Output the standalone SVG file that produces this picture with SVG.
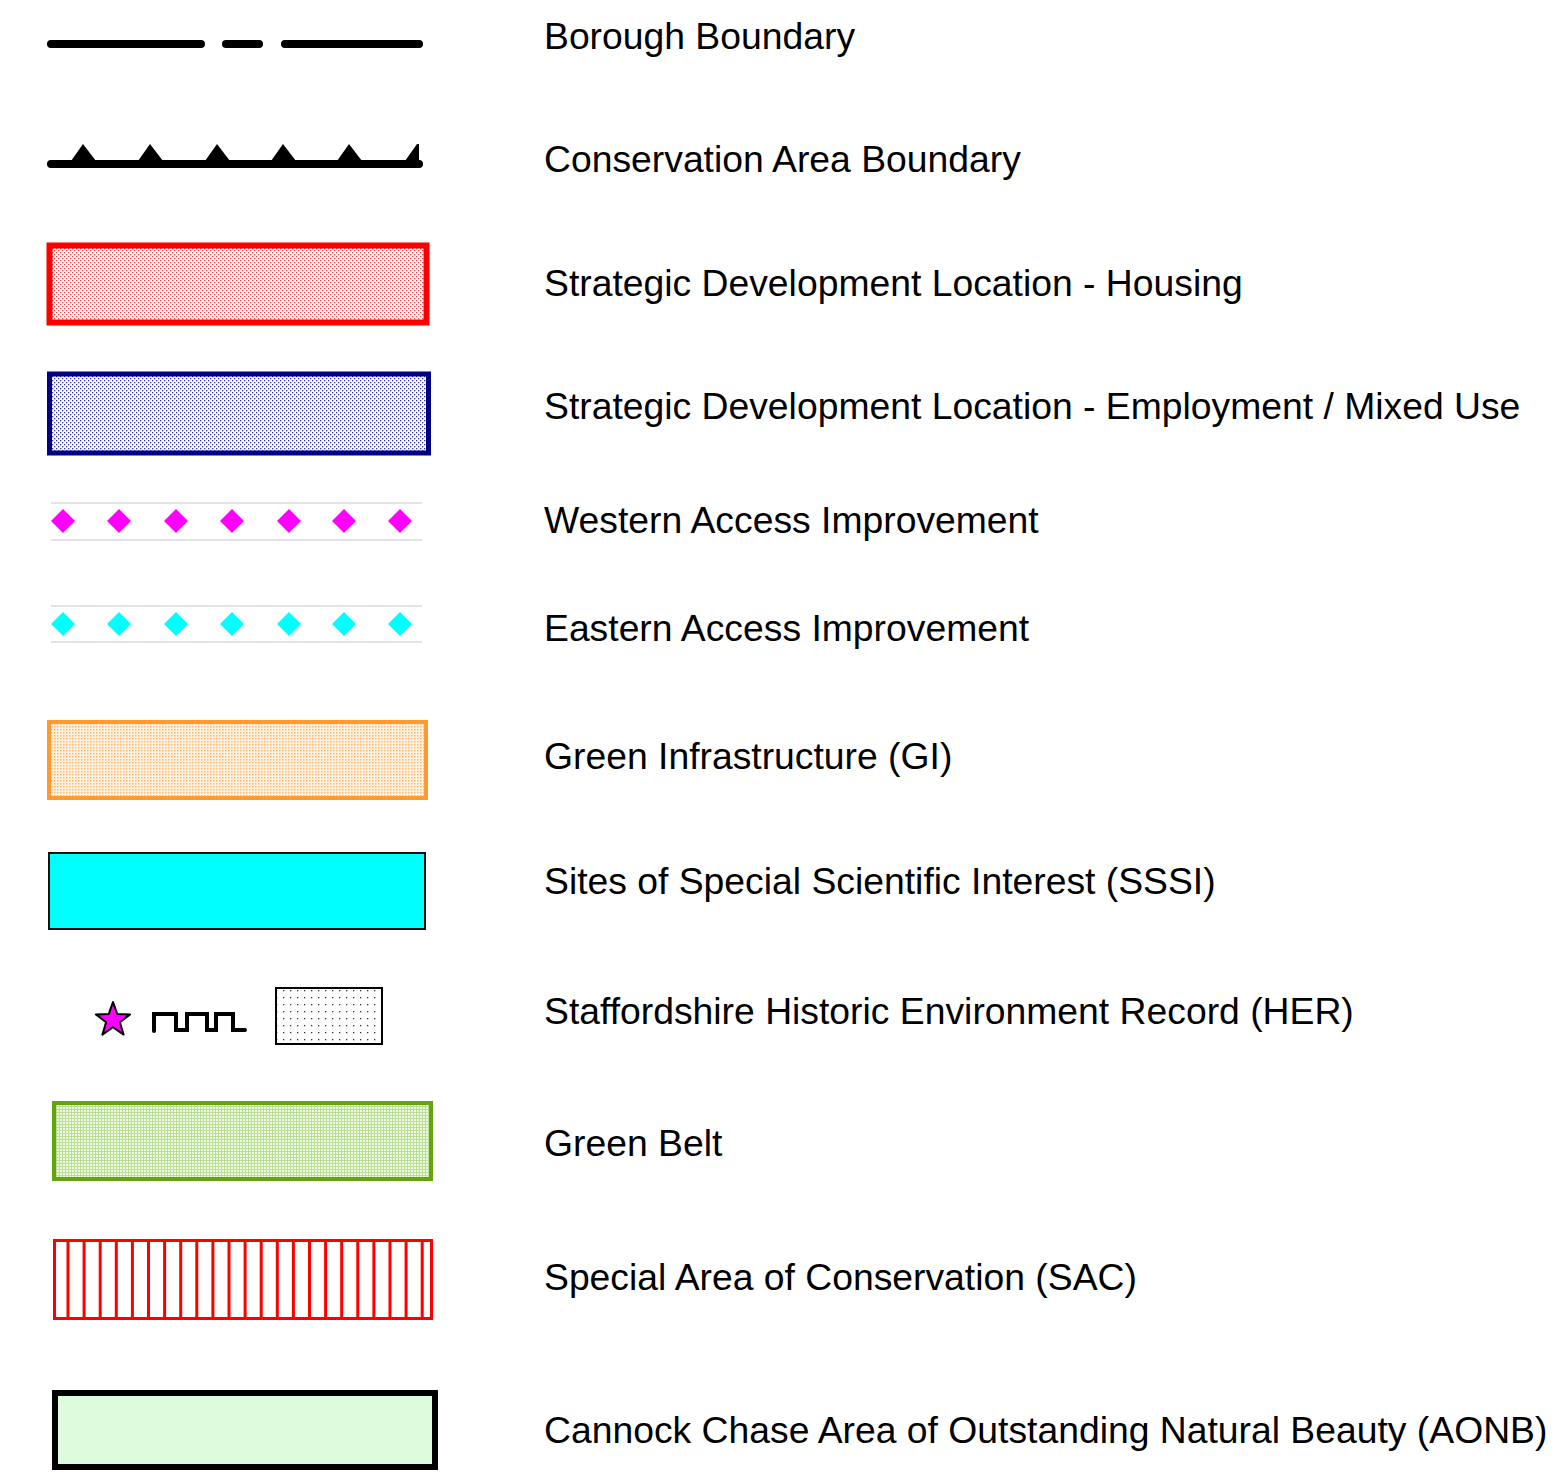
<svg xmlns="http://www.w3.org/2000/svg" width="1557" height="1482" viewBox="0 0 1557 1482">
<style>
text{font-family:"Liberation Sans",Arial,sans-serif;font-size:37.3px;fill:#000}
.bl{fill:none;stroke:#000;stroke-width:8;stroke-linecap:round}
.gl{stroke:#e3e3e3;stroke-width:2}
</style>
<defs>
<pattern id="pRed" width="4" height="4" patternUnits="userSpaceOnUse">
<rect width="4" height="4" fill="#fff"/>
<rect x="0" y="0" width="1.3" height="1.3" fill="#ff4040"/>
<rect x="2" y="2" width="1.3" height="1.3" fill="#ff4040"/>
</pattern>
<pattern id="pBlue" width="4" height="4" patternUnits="userSpaceOnUse">
<rect width="4" height="4" fill="#fff"/>
<rect x="0" y="0" width="1.3" height="1.3" fill="#3030a8"/>
<rect x="2" y="2" width="1.3" height="1.3" fill="#3030a8"/>
</pattern>
<pattern id="pOrange" width="3" height="3" patternUnits="userSpaceOnUse">
<rect width="3" height="3" fill="#fff2e0"/>
<rect x="0" y="0" width="1.5" height="1.5" fill="#ffb870"/>
</pattern>
<pattern id="pGreen" width="3" height="3" patternUnits="userSpaceOnUse">
<rect width="3" height="3" fill="#b8e090"/>
<rect x="0" y="0" width="2" height="2" fill="#f0f9e8"/>
</pattern>
<pattern id="pDots" width="7" height="7" patternUnits="userSpaceOnUse">
<rect width="7" height="7" fill="#fff"/>
<rect x="3" y="3" width="1.3" height="1.3" fill="#333"/>
</pattern>
<polygon id="dia" points="0,-12 12,0 0,12 -12,0"/>
</defs>

<g id="borough-boundary">
<line class="bl" x1="51" y1="44" x2="201" y2="44"/>
<line class="bl" x1="226" y1="44" x2="259" y2="44"/>
<line class="bl" x1="285" y1="44" x2="419" y2="44"/>
<text x="544" y="49">Borough Boundary</text>
</g>

<g id="conservation-area-boundary">
<line class="bl" x1="51" y1="164" x2="419" y2="164"/>
<g fill="#000">
<polygon points="71,161 83,144 96,161"/>
<polygon points="138,161 150,144 163,161"/>
<polygon points="205,161 217,144 230,161"/>
<polygon points="271,161 283,144 296,161"/>
<polygon points="337,161 349,144 362,161"/>
<polygon points="405,161 417,144 419,144 419,161"/>
</g>
<text x="544" y="172">Conservation Area Boundary</text>
</g>

<g id="sdl-housing">
<rect x="49.5" y="245.5" width="377" height="77" fill="url(#pRed)" stroke="#ff0000" stroke-width="6"/>
<text x="544" y="296">Strategic Development Location - Housing</text>
</g>

<g id="sdl-employment">
<rect x="49.5" y="374" width="379" height="79" fill="url(#pBlue)" stroke="#000080" stroke-width="5"/>
<text x="544" y="419">Strategic Development Location - Employment / Mixed Use</text>
</g>

<g id="western-access">
<line class="gl" x1="51" y1="503" x2="422" y2="503"/>
<line class="gl" x1="51" y1="540" x2="422" y2="540"/>
<g fill="#ff00ff">
<use href="#dia" x="63" y="521"/><use href="#dia" x="119" y="521"/><use href="#dia" x="176" y="521"/><use href="#dia" x="232" y="521"/><use href="#dia" x="289" y="521"/><use href="#dia" x="344" y="521"/><use href="#dia" x="400" y="521"/>
</g>
<text x="544" y="533">Western Access Improvement</text>
</g>

<g id="eastern-access">
<line class="gl" x1="51" y1="606" x2="422" y2="606"/>
<line class="gl" x1="51" y1="642" x2="422" y2="642"/>
<g fill="#00ffff">
<use href="#dia" x="63" y="624"/><use href="#dia" x="119" y="624"/><use href="#dia" x="176" y="624"/><use href="#dia" x="232" y="624"/><use href="#dia" x="289" y="624"/><use href="#dia" x="344" y="624"/><use href="#dia" x="400" y="624"/>
</g>
<text x="544" y="641">Eastern Access Improvement</text>
</g>

<g id="green-infrastructure">
<rect x="49" y="722" width="377" height="76" fill="url(#pOrange)" stroke="#ff9a2e" stroke-width="4"/>
<text x="544" y="769">Green Infrastructure (GI)</text>
</g>

<g id="sssi">
<rect x="49" y="853" width="376" height="76" fill="#00ffff" stroke="#111" stroke-width="2"/>
<text x="544" y="894">Sites of Special Scientific Interest (SSSI)</text>
</g>

<g id="her">
<polygon points="113,1002 117.3,1014.1 130.1,1014.4 119.9,1022.2 123.6,1034.6 113,1027.3 102.4,1034.6 106.1,1022.2 95.9,1014.4 108.7,1014.1" fill="#ff00ff" stroke="#000" stroke-width="2" stroke-linejoin="round"/>
<polyline points="154,1031 154,1014 176,1014 176,1030 187,1030 187,1014 207,1014 207,1030 216,1030 216,1014 233,1014 233,1030 245,1030" fill="none" stroke="#000" stroke-width="4" stroke-linecap="round" stroke-linejoin="miter"/>
<rect x="276" y="988" width="106" height="56" fill="url(#pDots)" stroke="#000" stroke-width="2"/>
<text x="544" y="1024">Staffordshire Historic Environment Record (HER)</text>
</g>

<g id="green-belt">
<rect x="54" y="1103" width="377" height="76" fill="url(#pGreen)" stroke="#66a310" stroke-width="4"/>
<text x="544" y="1156">Green Belt</text>
</g>

<g id="sac">
<rect x="54.5" y="1240.5" width="377" height="78" fill="#fff" stroke="#ff0000" stroke-width="3"/>
<path d="M68,1240V1319M84.1,1240V1319M100.2,1240V1319M116.3,1240V1319M132.4,1240V1319M148.5,1240V1319M164.6,1240V1319M180.7,1240V1319M196.8,1240V1319M212.9,1240V1319M229,1240V1319M245.1,1240V1319M261.2,1240V1319M277.3,1240V1319M293.4,1240V1319M309.5,1240V1319M325.6,1240V1319M341.7,1240V1319M357.8,1240V1319M373.9,1240V1319M390,1240V1319M406.1,1240V1319M422.2,1240V1319" stroke="#ff0000" stroke-width="3" fill="none"/>
<text x="544" y="1290">Special Area of Conservation (SAC)</text>
</g>

<g id="aonb">
<rect x="55" y="1393" width="380" height="74" fill="#ddfcdd" stroke="#000" stroke-width="6"/>
<text x="544" y="1443">Cannock Chase Area of Outstanding Natural Beauty (AONB)</text>
</g>
</svg>
